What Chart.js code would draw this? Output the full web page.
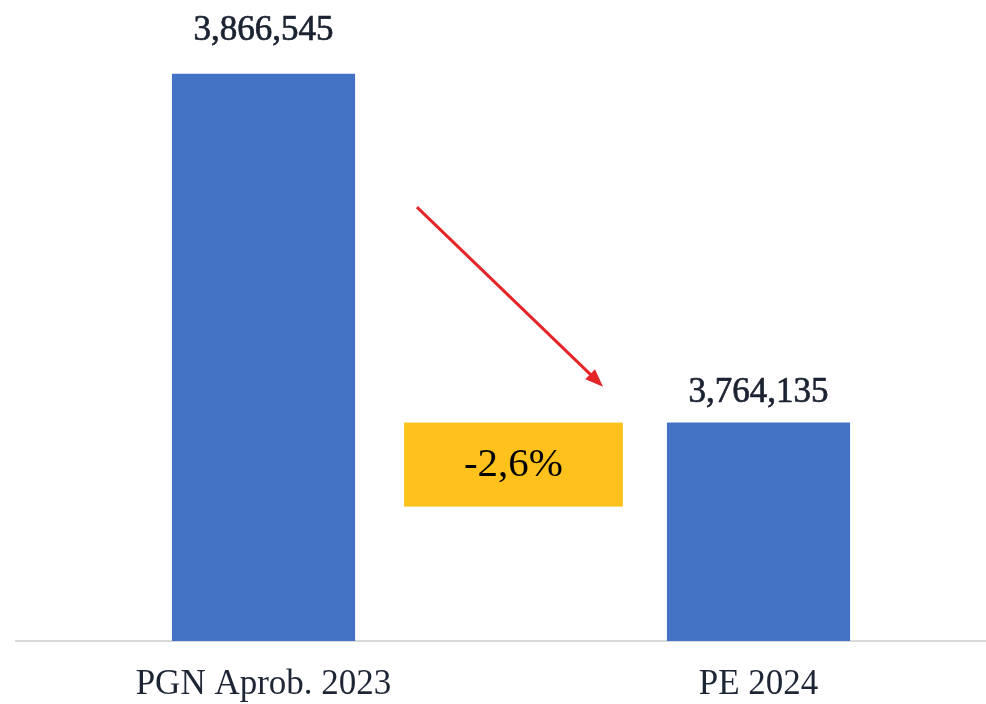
<!DOCTYPE html>
<html>
<head>
<meta charset="utf-8">
<script src="https://cdn.jsdelivr.net/npm/chart.js@4"></script>
<style>
  html, body { margin: 0; padding: 0; background: #fff; overflow: hidden; }
  #wrap { width: 1006px; height: 704px; }
</style>
</head>
<body>
<div id="wrap"><canvas id="chart"></canvas></div>
<script>
const categories = ['PGN Aprob. 2023', 'PE 2024'];
const amounts = [3866545, 3764135];
const yMin = 3700000;
const yMax = 3880000;

const serif = '"Liberation Serif", "Times New Roman", serif';

// percent change between the two bars, written with a decimal comma
const change = (amounts[1] - amounts[0]) / amounts[0] * 100;
const changeText = change.toFixed(1).replace('.', ',') + '%';

const valueLabels = {
  id: 'valueLabels',
  afterDatasetsDraw(chart) {
    const ctx = chart.ctx;
    const meta = chart.getDatasetMeta(0);
    const gaps = [34, 21]; // label sits a bit higher on the tall bar
    ctx.save();
    ctx.font = '35px ' + serif;
    ctx.fillStyle = '#1b2231';
    ctx.strokeStyle = '#1b2231';
    ctx.lineWidth = 0.7;
    ctx.textAlign = 'center';
    ctx.textBaseline = 'alphabetic';
    meta.data.forEach((bar, i) => {
      const txt = amounts[i].toLocaleString('en-US');
      ctx.fillText(txt, bar.x, bar.y - gaps[i]);
      ctx.strokeText(txt, bar.x, bar.y - gaps[i]);
    });
    ctx.restore();
  }
};

// yellow change box and red arrow between the bars
const changeMarker = {
  id: 'changeMarker',
  afterDatasetsDraw(chart) {
    const ctx = chart.ctx;
    const meta = chart.getDatasetMeta(0);
    const b1 = meta.data[0], b2 = meta.data[1];
    const dx = b2.x - b1.x;
    const dy = b2.y - b1.y;

    // box
    const left = b1.x + dx * 0.284;
    const right = b1.x + dx * 0.726;
    const top = b2.y;
    const h = 84;
    ctx.save();
    ctx.fillStyle = '#ffc11c';
    ctx.fillRect(left, top, right - left, h);
    ctx.fillStyle = '#000';
    ctx.font = '41px ' + serif;
    ctx.textAlign = 'center';
    ctx.textBaseline = 'middle';
    ctx.fillText(changeText, (left + right) / 2, top + h / 2 + 1);

    // arrow
    const sx = b1.x + dx * 0.31, sy = b1.y + dy * 0.382;
    const ex = b1.x + dx * 0.686, ey = b1.y + dy * 0.897;
    const ang = Math.atan2(ey - sy, ex - sx);
    const head = 18, half = 7;
    ctx.strokeStyle = '#e52628';
    ctx.fillStyle = '#e52628';
    ctx.lineWidth = 3;
    ctx.beginPath();
    ctx.moveTo(sx, sy);
    ctx.lineTo(ex - Math.cos(ang) * head * 0.8, ey - Math.sin(ang) * head * 0.8);
    ctx.stroke();
    ctx.beginPath();
    ctx.moveTo(ex, ey);
    ctx.lineTo(ex - Math.cos(ang) * head - Math.sin(ang) * half,
               ey - Math.sin(ang) * head + Math.cos(ang) * half);
    ctx.lineTo(ex - Math.cos(ang) * head + Math.sin(ang) * half,
               ey - Math.sin(ang) * head - Math.cos(ang) * half);
    ctx.closePath();
    ctx.fill();
    ctx.restore();
  }
};

new Chart(document.getElementById('chart'), {
  type: 'bar',
  data: {
    labels: categories,
    datasets: [{
      data: amounts,
      backgroundColor: '#4472c4',
      barPercentage: 0.37,
      categoryPercentage: 1
    }]
  },
  options: {
    responsive: true,
    maintainAspectRatio: false,
    animation: false,
    layout: { padding: { left: 16, top: 28, right: 0, bottom: 0 } },
    plugins: {
      legend: { display: false },
      tooltip: { enabled: false }
    },
    scales: {
      x: {
        grid: { display: false, drawTicks: false },
        border: { display: true, color: '#d9d9d9', width: 2 },
        ticks: {
          padding: 23,
          color: '#1e2535',
          font: { family: serif, size: 35 }
        },
        afterFit(scale) { scale.height = 63; }
      },
      y: {
        display: false,
        min: yMin,
        max: yMax
      }
    }
  },
  plugins: [valueLabels, changeMarker]
});
</script>
</body>
</html>
